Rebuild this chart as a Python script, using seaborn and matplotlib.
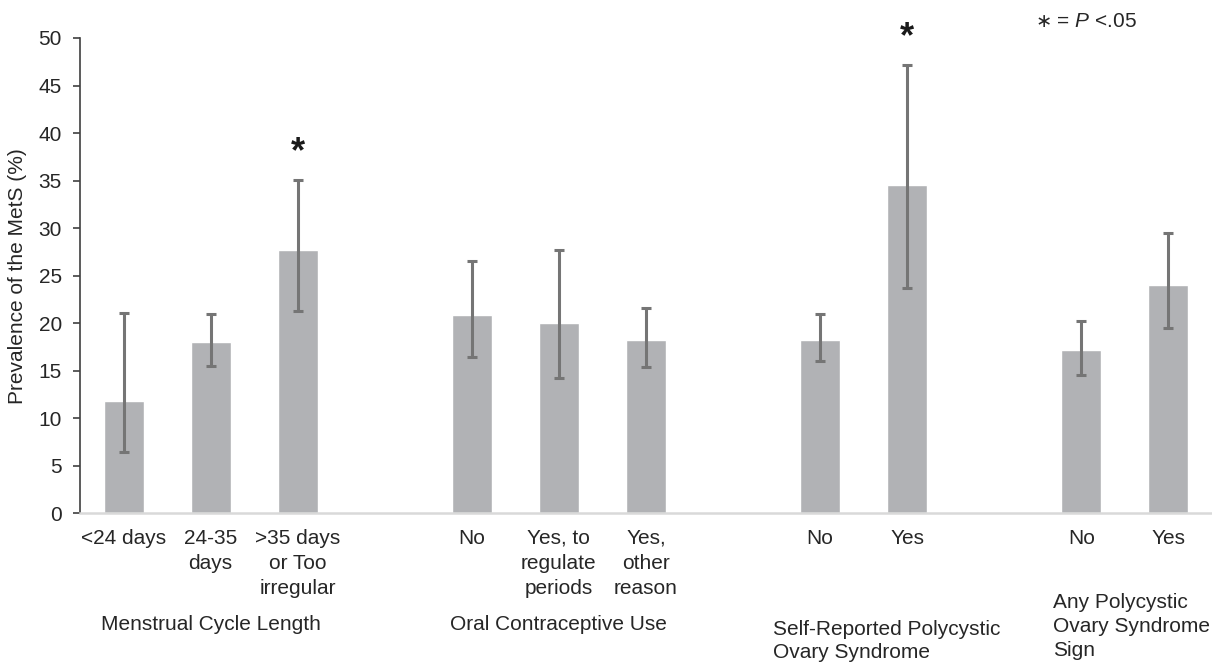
import matplotlib
matplotlib.use("Agg")
import matplotlib.pyplot as plt
import matplotlib.transforms as mtransforms
import numpy as np
import pandas as pd
import seaborn as sns

# ---- data -------------------------------------------------------------
groups = [
    "Menstrual Cycle Length",
    "Oral Contraceptive Use",
    "Self-Reported Polycystic\nOvary Syndrome",
    "Any Polycystic\nOvary Syndrome\nSign",
]
categories = [
    ["<24 days", "24-35\ndays", ">35 days\nor Too\nirregular"],
    ["No", "Yes, to\nregulate\nperiods", "Yes,\nother\nreason"],
    ["No", "Yes"],
    ["No", "Yes"],
]
prevalence = [[11.8, 18.0, 27.7], [20.9, 20.0, 18.25], [18.25, 34.5], [17.2, 24.0]]
ci_low = [[6.4, 15.5, 21.3], [16.4, 14.2, 15.4], [16.0, 23.7], [14.6, 19.5]]
ci_high = [[21.1, 21.0, 35.1], [26.5, 27.7, 21.6], [21.0, 47.2], [20.2, 29.5]]
significant = [[False, False, True], [False, False, False], [False, True], [False, False]]
y_ticks = list(range(0, 51, 5))
note = " = $P$ <.05"

# ---- styling ----------------------------------------------------------
sns.set_theme(style="white")
plt.rcParams["font.family"] = ["Liberation Sans", "DejaVu Sans"]
plt.rcParams["mathtext.fontset"] = "custom"
plt.rcParams["mathtext.it"] = "Liberation Sans:italic"
plt.rcParams["mathtext.rm"] = "Liberation Sans"

TEXT = "#262626"
BAR = "#B1B2B5"
ERR = "#757575"
FS = 15

# long-form table, one row per bar; blank slots separate the groups
rows, order, tick_labels = [], [], []
for g, cats in enumerate(categories):
    if g > 0:
        order.append(f"gap{g}")
        tick_labels.append("")
    for i, c in enumerate(cats):
        key = f"{g}:{i}"
        order.append(key)
        tick_labels.append(c)
        rows.append(dict(key=key, group=g, value=prevalence[g][i],
                         low=ci_low[g][i], high=ci_high[g][i],
                         sig=significant[g][i]))
df = pd.DataFrame(rows)

fig = plt.figure(figsize=(12.12, 6.62), dpi=100)
ax = fig.add_axes([0.066, 0.2246, 0.934, 0.718])

sns.barplot(data=df, x="key", y="value", order=order, color=BAR,
            saturation=1, width=0.46, errorbar=None, ax=ax)

pos = np.array([order.index(k) for k in df["key"]])
vals = df["value"].to_numpy()
ax.errorbar(pos, vals, yerr=[vals - df["low"].to_numpy(), df["high"].to_numpy() - vals],
            fmt="none", ecolor=ERR, elinewidth=2.2, capsize=3.4, capthick=2.2, zorder=3)

# significance markers above the error bars
for p, hi, s in zip(pos, df["high"], df["sig"]):
    if s:
        ax.annotate("*", xy=(p, hi), xytext=(0, 12.5), textcoords="offset points",
                    ha="center", va="baseline", fontsize=26, fontweight="bold",
                    color="#1a1a1a", annotation_clip=False)

ax.set_xlim(-0.5, len(order) - 0.5)
ax.set_ylim(0, 50)
ax.set_yticks(y_ticks)
ax.set_yticklabels([str(t) for t in y_ticks], fontsize=FS, color=TEXT)
ax.set_xticks(range(len(order)))
ax.set_xticklabels(tick_labels, fontsize=FS, color=TEXT, linespacing=1.4)
ax.tick_params(axis="x", length=0, pad=11)
ax.tick_params(axis="y", length=5, width=1.2, color="#404040", pad=8, left=True)
ax.set_xlabel("")
ax.set_ylabel("Prevalence of the MetS (%)", fontsize=FS, color=TEXT, labelpad=8)

for side in ("top", "right"):
    ax.spines[side].set_visible(False)
ax.spines["left"].set_color("#404040")
ax.spines["left"].set_linewidth(1.2)
ax.spines["bottom"].set_color("#D9D9D9")
ax.spines["bottom"].set_linewidth(1.8)

# group titles under the category labels
trans = mtransforms.blended_transform_factory(ax.transData, fig.transFigure)
group_anchor = []
start = 0
for g, cats in enumerate(categories):
    group_anchor.append(start + (len(cats) - 1) / 2)
    start += len(cats) + 1
title_layout = [  # (x offset in slots, horizontal alignment, top in figure fraction)
    (0.0, "center", 0.071),
    (0.0, "center", 0.071),
    (-1.04, "left", 0.064),
    (-0.83, "left", 0.104),
]
for g, title in enumerate(groups):
    dx, ha, top = title_layout[g]
    ax.text(group_anchor[g] + dx, top, title, transform=trans, ha=ha, va="top",
            fontsize=FS, color=TEXT, linespacing=1.32, multialignment="left")

# significance legend in the top-right corner
star = fig.text(0.854, 0.968, "\u2217", ha="left", va="center", fontsize=FS - 1,
                color=TEXT, family="DejaVu Sans")
fig.canvas.draw()
bb = star.get_window_extent()
fig.text(bb.x1 / fig.bbox.width, 0.968, note, ha="left", va="center",
         fontsize=FS, color=TEXT)

fig.savefig("out.png", dpi=100)
